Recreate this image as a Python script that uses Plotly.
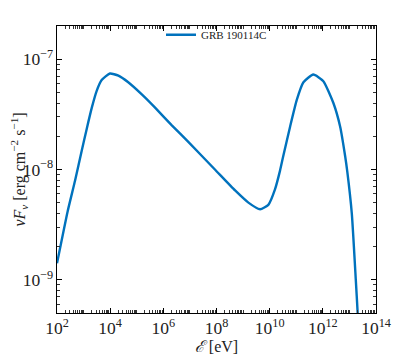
import plotly.graph_objects as go

# log10(E / eV) and log10(nuFnu / erg cm^-2 s^-1)
log_e = [2.00, 2.40, 2.68, 2.93, 3.12, 3.31, 3.49, 3.68, 3.99, 4.31, 4.68, 5.19,
         5.69, 6.32, 6.94, 7.94, 8.70, 9.20, 9.64, 9.95, 10.20, 10.39, 10.51, 10.77,
         11.02, 11.27, 11.64, 12.02, 12.40, 12.65, 12.84, 12.92, 13.09, 13.24, 13.31, 13.36]
log_f = [-8.85, -8.38, -8.10, -7.83, -7.63, -7.44, -7.29, -7.19, -7.13, -7.15, -7.21, -7.32,
         -7.44, -7.60, -7.75, -8.00, -8.19, -8.30, -8.36, -8.32, -8.18, -8.01, -7.88, -7.61,
         -7.37, -7.21, -7.14, -7.20, -7.40, -7.61, -7.88, -8.02, -8.40, -9.00, -9.30, -9.60]

energy = [10 ** v for v in log_e]
flux = [10 ** v for v in log_f]

font = "Liberation Serif"

fig = go.Figure(go.Scatter(
    x=energy, y=flux, mode="lines", name="GRB 190114C",
    line=dict(color="#0072BD", width=2.4, shape="spline", smoothing=0.5),
))

axis_common = dict(
    type="log", showline=True, linecolor="black", linewidth=1, mirror="allticks",
    ticks="inside", ticklen=5, tickcolor="black", showgrid=False, zeroline=False,
    exponentformat="power", tickfont=dict(family=font, size=14, color="#222"),
    automargin=False,
    minor=dict(ticks="inside", ticklen=3, tickcolor="#333", tickwidth=1,
               dtick="D1", showgrid=False),
)

fig.update_xaxes(
    range=[2, 14], dtick=2, **axis_common,
    title=dict(text="<i>ℰ</i> [eV]", font=dict(family=font, size=16, color="#222"), standoff=2),
)
fig.update_yaxes(
    range=[-9.3, -6.7], dtick=1, **axis_common,
    title=dict(text="<i>νF<sub>ν</sub></i> [erg cm<sup>−2</sup> s<sup>−1</sup>]",
               font=dict(family=font, size=16, color="#222"), standoff=9),
)

# page body has an 8px margin, so the plot area is shifted up/left by 8px here
fig.update_layout(
    width=415, height=358,
    margin=dict(l=49, r=47, t=18, b=53),
    plot_bgcolor="white", paper_bgcolor="white",
    showlegend=True,
    legend=dict(x=0.5, y=1.02, xanchor="center", yanchor="top", bgcolor="rgba(0,0,0,0)",
                font=dict(family=font, size=11, color="#222"), itemwidth=30),
)

fig.write_html("out.html")
